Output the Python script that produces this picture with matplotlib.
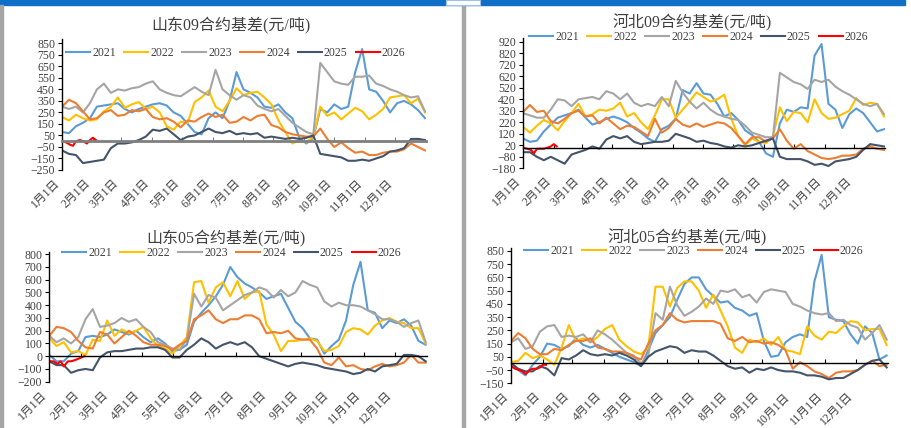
import numpy as np
import matplotlib.pyplot as plt
from matplotlib.patches import Rectangle

plt.rcParams['font.family'] = ['Liberation Serif', 'Noto Sans CJK SC']

# weekly sample days (day of year) and the short 2026 series
days = np.arange(0, 365, 7)
red_days = [0, 4, 8, 11, 14, 18, 21, 25, 28, 31, 34]
years = ['2021', '2022', '2023', '2024', '2025', '2026']
colors = ['#5B9BD5', '#FFC000', '#A5A5A5', '#ED7D31', '#44546A', '#FF0000']
month_days = [0, 31, 59, 90, 120, 151, 181, 212, 243, 273, 304, 334]
month_labels = [f'{m}月1日' for m in range(1, 13)]

# 山东09
sd09_2021 = [80, 70, 130, 160, 200, 300, 310, 320, 330, 280, 250, 280, 300, 320, 330, 310, 250, 220, 150, 80,
             60, 200, 250, 200, 350, 600, 450, 420, 380, 300, 290, 320, 250, 200, 30, -20, 30, 280, 250, 320,
             280, 300, 600, 800, 450, 430, 350, 250, 330, 350, 320, 270, 200]
sd09_2022 = [210, 180, 230, 200, 180, 190, 260, 300, 380, 290, 320, 340, 280, 300, 250, 130, 100, 170, 160, 340,
             380, 440, 300, 260, 350, 460, 400, 420, 430, 380, 320, 180, 80, -20, 10, -10, 40, 300, 220, 250,
             190, 240, 290, 260, 190, 230, 280, 380, 390, 400, 330, 370, 250]
sd09_2023 = [300, 280, 300, 250, 330, 450, 500, 420, 450, 440, 460, 470, 500, 520, 450, 420, 400, 390, 430, 470,
             430, 400, 620, 450, 400, 360, 400, 380, 310, 280, 260, 280, 220, 160, 120, 80, 60, 680, 600, 520,
             500, 490, 560, 560, 570, 500, 480, 450, 430, 400, 380, 390, 260]
sd09_2024 = [300, 360, 330, 260, 190, 200, 250, 270, 220, 230, 270, 260, 280, 210, 190, 200, 170, 120, 180, 170,
             210, 240, 210, 230, 160, 170, 210, 180, 220, 230, 140, 120, 80, 60, 50, 40, 40, 110, 20, -50,
             -10, -60, -100, -90, -120, -120, -100, -90, -90, -70, -20, -50, -80]
sd09_2025 = [-80, -110, -120, -190, -180, -170, -160, -60, -20, -20, -10, 10, 40, 100, 90, 110, 60, 10, 40, 50,
             80, 110, 80, 70, 90, 60, 70, 60, 70, 30, 40, 30, 20, 30, 20, 30, 50, -110, -120, -130,
             -140, -170, -170, -160, -170, -150, -130, -90, -80, -60, 20, 20, 10]
sd09_2026 = [0, -10, -30, -40, 0, 10, 0, -20, 10, 30, 10]

# 河北09
hb09_2021 = [80, 50, 60, 140, 200, 260, 280, 300, 330, 260, 200, 220, 250, 270, 250, 220, 170, 130, 80, 50,
             160, 190, 250, 500, 470, 560, 470, 460, 380, 270, 300, 240, 150, 110, 50, -50, -80, 210, 330, 310,
             350, 340, 800, 900, 380, 330, 170, 290, 340, 300, 220, 140, 160]
hb09_2022 = [180, 130, 190, 240, 210, 150, 230, 300, 380, 270, 290, 330, 320, 340, 390, 270, 300, 220, 160, 280,
             420, 420, 260, 330, 400, 480, 440, 400, 420, 460, 250, 100, 20, 80, 50, 40, 100, 350, 230, 310,
             300, 220, 420, 300, 250, 260, 290, 320, 430, 370, 390, 380, 270]
hb09_2023 = [300, 280, 260, 260, 330, 420, 410, 360, 420, 430, 440, 420, 490, 470, 420, 470, 390, 360, 380, 360,
             440, 360, 580, 480, 400, 340, 390, 330, 290, 270, 250, 240, 190, 130, 110, 90, 90, 650, 610, 570,
             550, 510, 590, 570, 590, 530, 490, 460, 420, 380, 360, 380, 290]
hb09_2024 = [310, 370, 310, 320, 230, 210, 250, 300, 320, 270, 280, 210, 260, 210, 160, 190, 180, 140, 100, 250,
             130, 170, 250, 200, 180, 210, 180, 200, 220, 210, 170, 100, 30, 90, 90, 50, 80, 160, 60, -10,
             30, -30, -60, -90, -100, -90, -70, -70, -60, -10, 10, -10, -20]
hb09_2025 = [-40, -40, -80, -110, -80, -110, -140, -60, -40, -20, 10, -10, 70, 100, 80, 100, 50, 30, 40, 50,
             50, 60, 120, 100, 80, 50, 60, 40, 30, 10, 0, 20, 10, 20, 40, 60, 80, -80, -100, -100,
             -100, -120, -150, -140, -160, -120, -110, -100, -80, -20, 30, 20, 10]
hb09_2026 = [0, -10, -20, -50, -10, -10, -10, 0, 10, 30, 10]

# 山东05
sd05_2021 = [10, -40, -40, 20, 40, 150, 160, 150, 170, 210, 190, 170, 200, 150, 110, 140, 100, 40, 50, 90,
             270, 340, 400, 470, 560, 700, 620, 570, 540, 500, 450, 470, 490, 380, 270, 220, 140, 130, 20, 80,
             130, 280, 560, 740, 360, 340, 220, 280, 260, 290, 240, 120, 90]
sd05_2022 = [140, 80, 110, 30, 40, 10, 130, 120, 280, 160, 210, 180, 200, 230, 140, 80, 60, 20, 80, 150,
             580, 590, 420, 540, 580, 470, 590, 450, 500, 510, 250, 170, 40, 120, 120, 130, 140, 120, 40, 50,
             80, 190, 220, 210, 170, 240, 280, 300, 270, 260, 220, 220, 100]
sd05_2023 = [160, 110, 140, 100, 150, 290, 370, 230, 240, 260, 300, 270, 290, 230, 190, 110, 90, 60, 50, 130,
             490, 390, 480, 460, 360, 400, 440, 480, 500, 540, 520, 460, 520, 470, 500, 590, 560, 540, 430, 390,
             420, 400, 400, 390, 360, 330, 290, 290, 270, 230, 260, 280, 110]
sd05_2024 = [160, 230, 220, 190, 120, 70, 60, 190, 170, 100, 150, 200, 160, 110, 90, 90, 80, 50, 90, 120,
             290, 320, 360, 290, 260, 290, 290, 320, 320, 290, 180, 190, 180, 200, 140, 130, 130, 60, -50, -70,
             -10, -80, -70, -100, -110, -80, -60, -80, -70, -50, 10, -50, -50]
sd05_2025 = [-40, -70, -70, -130, -110, -100, -110, -10, 30, 40, 40, 50, 60, 60, 70, 70, 50, -10, -10, 50,
             90, 140, 110, 60, 90, 110, 90, 110, 70, 0, -20, -40, -60, -80, -60, -50, -60, -70, -90, -100,
             -110, -120, -140, -130, -100, -120, -80, -70, -60, 10, 10, 0, -40]
sd05_2026 = [-40, -40, -60, -40, -80, -40, -40, -30, -20, -10, 0]

# 河北05
hb05_2021 = [10, -50, -90, -10, 50, 150, 140, 110, 130, 190, 140, 120, 140, 110, 80, 50, 30, 10, -20, 100,
             230, 290, 350, 480, 600, 650, 650, 560, 510, 460, 470, 420, 400, 360, 380, 170, 50, 60, 160, 200,
             220, 200, 620, 820, 350, 330, 320, 220, 150, 280, 230, 30, 60]
hb05_2022 = [10, 20, 80, 40, 60, 30, -10, 120, 290, 170, 190, 160, 200, 260, 290, 180, 130, 90, 70, 120,
             580, 580, 430, 570, 620, 620, 550, 420, 520, 400, 280, 120, 80, 180, 160, 190, 140, 200, 100, 90,
             70, 280, 210, 180, 240, 230, 280, 320, 310, 250, 260, 260, 140]
hb05_2023 = [160, 190, 110, 130, 240, 280, 290, 200, 210, 200, 220, 160, 250, 220, 180, 130, 80, 60, 0, 60,
             380, 330, 580, 440, 360, 390, 430, 490, 450, 550, 540, 560, 500, 520, 460, 540, 560, 550, 540, 450,
             430, 400, 380, 370, 380, 320, 330, 290, 270, 180, 230, 290, 180]
hb05_2024 = [170, 230, 190, 110, 70, 70, 110, 100, 140, 170, 170, 190, 120, 110, 90, 90, 80, 50, 30, 150,
             250, 290, 380, 330, 310, 320, 320, 320, 320, 300, 190, 170, 200, 160, 170, 150, 160, 140, 100, -40,
             10, -20, -60, -80, -110, -70, -60, -60, -50, -10, 20, -20, -10]
hb05_2025 = [0, -40, -60, -60, -20, -40, -90, 40, 30, 60, 100, 70, 60, 70, 60, 80, 60, 30, -20, 50,
             90, 110, 130, 120, 80, 100, 90, 90, 60, 20, -20, -40, -30, -70, -40, -50, -30, -50, -60, -60,
             -70, -90, -90, -100, -120, -110, -110, -80, -50, -10, 20, 30, -30]
hb05_2026 = [-20, -40, -50, -60, -80, -50, -40, -40, -30, -10, -10]

W, H = 912, 428


def px_rect(x0, x1, ytop, ybot):
    return [x0 / W, 1 - ybot / H, (x1 - x0) / W, (ybot - ytop) / H]


panels = [
    ('山东09合约基差(元/吨)', px_rect(62, 426, 39.3, 170), np.arange(-250, 851, 100), (-250, 885),
     [sd09_2021, sd09_2022, sd09_2023, sd09_2024, sd09_2025], sd09_2026, ('#7F7F7F', 2.0),
     (231, 25), (236, 53)),
    ('河北09合约基差(元/吨)', px_rect(523, 885, 38.3, 168.3), np.arange(-180, 921, 100), (-180, 950),
     [hb09_2021, hb09_2022, hb09_2023, hb09_2024, hb09_2025], hb09_2026, ('black', 1.0),
     (692, 23), (699, 37)),
    ('山东05合约基差(元/吨)', px_rect(49.3, 426.7, 251.7, 381.7), np.arange(-200, 801, 100), (-200, 820),
     [sd05_2021, sd05_2022, sd05_2023, sd05_2024, sd05_2025], sd05_2026, ('black', 1.0),
     (226, 238), (232, 253)),
    ('河北05合约基差(元/吨)', px_rect(511, 887.7, 248.3, 383.3), np.arange(-150, 851, 100), (-150, 870),
     [hb05_2021, hb05_2022, hb05_2023, hb05_2024, hb05_2025], hb05_2026, ('black', 1.0),
     (687, 238), (694, 251)),
]

fig = plt.figure(figsize=(W / 100, H / 100), dpi=100)

# page decorations
fig.patches.append(Rectangle((0, 1 - 5 / H), 905 / W, 5 / H, transform=fig.transFigure,
                             color='#0F6FC6', zorder=0))
fig.patches.append(Rectangle((446 / W, 1 - 5 / H), 34 / W, 5 / H, transform=fig.transFigure,
                             facecolor='white', edgecolor='#9DC3E6', lw=0.8, zorder=1))
fig.patches.append(Rectangle((0, 0), 3 / W, 1 - 5 / H, transform=fig.transFigure,
                             color='#A6A6A6', zorder=0))
fig.patches.append(Rectangle((462 / W, 0), 3 / W, 1 - 5 / H, transform=fig.transFigure,
                             color='#A6A6A6', zorder=0))

for title, rect, yticks, ylim, series, red, (zc, zlw), tpos, lpos in panels:
    ax = fig.add_axes(rect)
    for yr, c, vals in zip(years[:5], colors[:5], series):
        ax.plot(days, vals, color=c, lw=1.5, label=yr)
    ax.plot(red_days, red, color=colors[5], lw=1.5, label=years[5])

    ax.set_xlim(0, 365)
    ax.set_ylim(ylim)
    ax.set_yticks(yticks)
    ax.tick_params(axis='y', direction='out', length=3, width=0.8, labelsize=8.5,
                   labelcolor='#404040', pad=2)
    ax.spines['top'].set_visible(False)
    ax.spines['right'].set_visible(False)
    ax.spines['left'].set_linewidth(1.0)
    ax.spines['bottom'].set_position(('data', 0))
    ax.spines['bottom'].set_color(zc)
    ax.spines['bottom'].set_linewidth(zlw)
    ax.set_xticks(month_days)
    ax.tick_params(axis='x', direction='in', length=3, width=0.8, color=zc, labelbottom=False)

    sec = ax.secondary_xaxis('bottom')
    sec.set_xticks(month_days, month_labels, rotation=45, ha='right')
    sec.tick_params(length=0, pad=5, labelsize=8.5, labelcolor='#404040')
    sec.spines['bottom'].set_visible(False)

    ax.legend(loc='center', bbox_to_anchor=(lpos[0] / W, 1 - lpos[1] / H), bbox_transform=fig.transFigure,
              ncol=6, frameon=False, fontsize=8.5, handlelength=2.0, handletextpad=0.2,
              columnspacing=0.7, borderpad=0.1, labelcolor='#404040')
    fig.text(tpos[0] / W, 1 - tpos[1] / H, title, ha='center', va='center', fontsize=11.5, color='#404040')

fig.savefig('out.png', dpi=100)
